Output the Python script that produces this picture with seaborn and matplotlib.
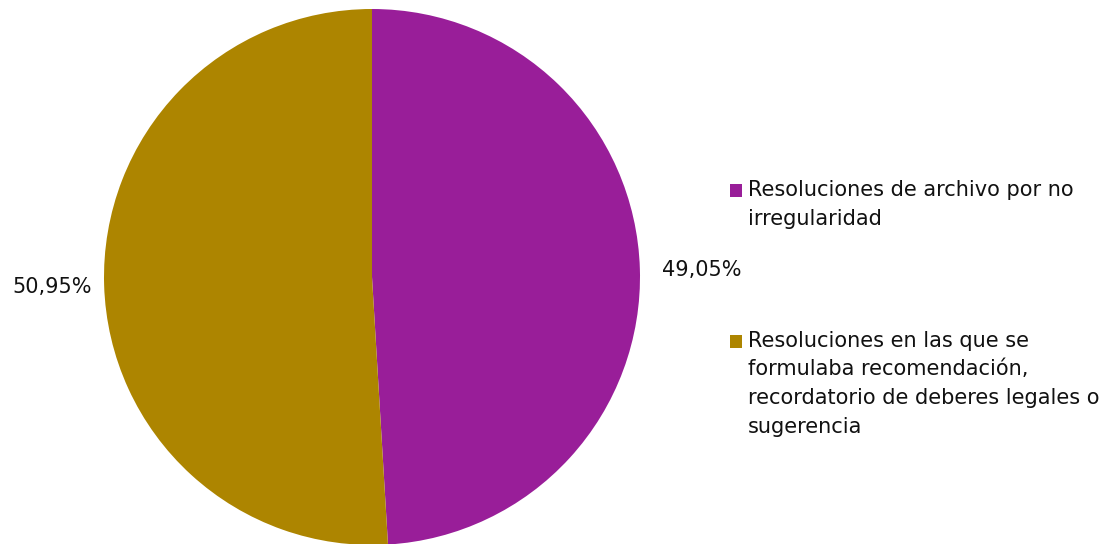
import matplotlib
matplotlib.use("Agg")
import matplotlib.pyplot as plt
import seaborn as sns
from matplotlib.patches import Rectangle
from matplotlib.legend_handler import HandlerPatch

sns.set_style("white")
plt.rcParams["font.family"] = ["DejaVu Sans"]

categories = [
    "Resoluciones de archivo por no\nirregularidad",
    "Resoluciones en las que se\nformulaba recomendación,\nrecordatorio de deberes legales o\nsugerencia",
]
shares = [49.05, 50.95]
pct_labels = ["49,05%", "50,95%"]
colors = ["#991E99", "#AD8500"]
label_dist = [1.082, 1.045]

FS = 15
LINESPACING = 1.544


class TopAlignedSquare(HandlerPatch):
    # legend centres the handle on the whole label; move it up to the first line
    def __init__(self, n_lines):
        super().__init__()
        self.n_lines = n_lines

    def create_artists(self, legend, orig_handle, xdescent, ydescent,
                       width, height, fontsize, trans):
        step = 0.886 * LINESPACING * fontsize
        shift = (self.n_lines - 1) / 2 * step
        p = Rectangle((-xdescent, -ydescent + shift), width, height,
                      facecolor=orig_handle.get_facecolor(), edgecolor="none",
                      transform=trans)
        return [p]


W, H = 1108, 544
fig = plt.figure(figsize=(W / 100, H / 100), dpi=100)
r_px = 268
cx, cy = 372, 277
ax = fig.add_axes([(cx - r_px) / W, (H - cy - r_px) / H, 2 * r_px / W, 2 * r_px / H])

wedges, texts = ax.pie(
    shares,
    labels=pct_labels,
    colors=colors,
    startangle=90,
    counterclock=False,
    labeldistance=1.0,
    textprops={"fontsize": FS, "color": "#111111"},
    wedgeprops={"linewidth": 0},
)
for t, d in zip(texts, label_dist):
    x, y = t.get_position()
    t.set_position((x * d, y * d))
    t.set_verticalalignment("center_baseline")
ax.set_xlim(-1, 1)
ax.set_ylim(-1, 1)
ax.axis("off")

handles = [Rectangle((0, 0), 1, 1, facecolor=c) for c in colors]
handler_map = {h: TopAlignedSquare(lab.count("\n") + 1) for h, lab in zip(handles, categories)}
leg = fig.legend(
    handles, categories,
    handler_map=handler_map,
    loc="upper left",
    bbox_to_anchor=(730 / W, 1 - 180 / H),
    frameon=False,
    fontsize=FS,
    handlelength=0.58,
    handleheight=0.58,
    handletextpad=0.27,
    labelspacing=4.9,
    borderpad=0,
    borderaxespad=0,
)
for t in leg.get_texts():
    t.set_linespacing(LINESPACING)
    t.set_color("#111111")

fig.savefig("out.png", dpi=100)
